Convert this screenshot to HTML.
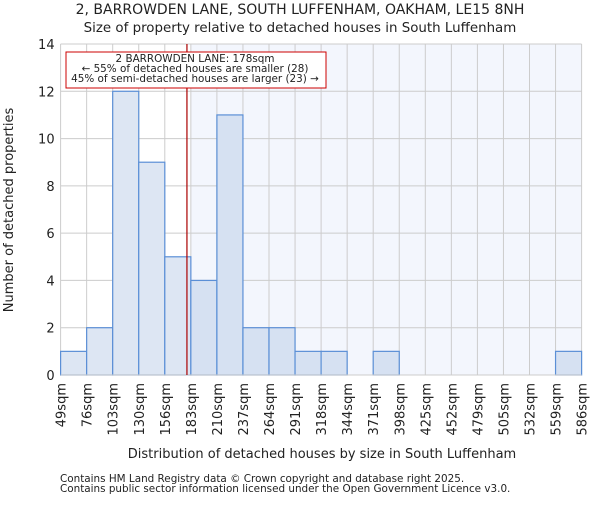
<!DOCTYPE html>
<html><head><meta charset="utf-8"><style>
body{margin:0;background:#fff}
text{font-family:"DejaVu Sans","Liberation Sans",sans-serif;fill:#222}
</style></head><body>
<svg id="c" width="600" height="500" xmlns="http://www.w3.org/2000/svg"></svg>
<script>
const binEdges=[49,76,103,130,156,183,210,237,264,291,318,344,371,398,425,452,479,505,532,559,586];
const counts=[1,2,12,9,5,4,11,2,2,1,1,0,1,0,0,0,0,0,0,1];
const yTicks=[0,2,4,6,8,10,12,14];
const subjectSize=178;
const subjectBinPos=4.85;
const L=60.6,R=581.6,T=44,B=375,yMax=14;
const n=counts.length,bw=(R-L)/n;
const xb=i=>L+i*bw;
const y=v=>B-(v/yMax)*(B-T);
const NS="http://www.w3.org/2000/svg";
const svg=document.getElementById('c');
function mk(t,a,p){const e=document.createElementNS(NS,t);for(const k in a)e.setAttribute(k,a[k]);(p||svg).appendChild(e);return e;}
const markX=xb(subjectBinPos);
const sh=mk('rect',{x:xb(5),y:T,width:R-xb(5),height:B-T,fill:'#f3f6fd'});


for(const v of yTicks){const g=mk('line',{x1:L,x2:R,y1:y(v),y2:y(v),stroke:'#cccccc'});


const t=mk('text',{x:L-6,y:y(v)+5,'text-anchor':'end','font-size':13});t.textContent=v;

}
for(let i=0;i<=n;i++){const g=mk('line',{x1:xb(i),x2:xb(i),y1:T,y2:B,stroke:'#cccccc'});


const t=mk('text',{transform:`translate(${xb(i)+5},${B+8}) rotate(-90)`,'text-anchor':'end','font-size':13});t.textContent=binEdges[i]+'sqm';

}
counts.forEach((c,i)=>{if(c<=0)return;const r=mk('rect',{x:xb(i),y:y(c),width:bw,height:B-y(c),fill:i<5?'#dde6f3':'#d6e1f2',stroke:'#5b8fd6','stroke-width':1.2});

});
const ax=mk('line',{x1:L,x2:R,y1:B,y2:B,stroke:'#cccccc'});


const ml=mk('line',{x1:markX,x2:markX,y1:T,y2:B,stroke:'#aa0000','stroke-width':1.2});


const box=mk('rect',{x:66,y:52,width:260,height:36,fill:'#fff',stroke:'#cc0000','stroke-width':1});


['2 BARROWDEN LANE: '+subjectSize+'sqm','← 55% of detached houses are smaller (28)','45% of semi-detached houses are larger (23) →'].forEach((s,i)=>{const t=mk('text',{x:195,y:62+i*10,'text-anchor':'middle','font-size':10.4});t.textContent=s;

});
const t1=mk('text',{x:300,y:14,'text-anchor':'middle','font-size':14});t1.textContent='2, BARROWDEN LANE, SOUTH LUFFENHAM, OAKHAM, LE15 8NH';


const t2=mk('text',{x:300,y:32,'text-anchor':'middle','font-size':13.4});t2.textContent='Size of property relative to detached houses in South Luffenham';


const xt=mk('text',{x:322,y:458,'text-anchor':'middle','font-size':13});xt.textContent='Distribution of detached houses by size in South Luffenham';


const yt=mk('text',{transform:'translate(13,210) rotate(-90)','text-anchor':'middle','font-size':13});yt.textContent='Number of detached properties';


['Contains HM Land Registry data © Crown copyright and database right 2025.','Contains public sector information licensed under the Open Government Licence v3.0.'].forEach((s,i)=>{const t=mk('text',{x:60,y:482+i*10,'font-size':10.4,fill:'#333'});t.textContent=s;

});
</script></body></html>
